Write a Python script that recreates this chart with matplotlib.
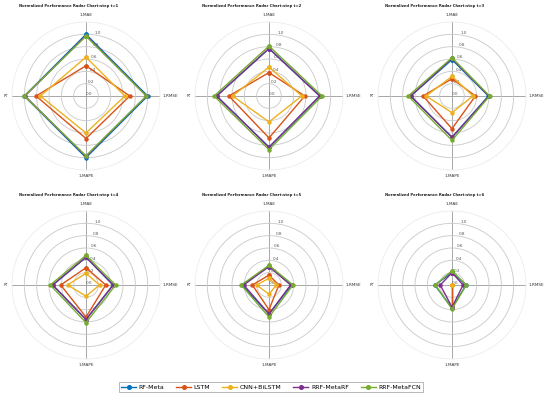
import numpy as np
import matplotlib
matplotlib.use("Agg")
import matplotlib.pyplot as plt

metrics = ["1-MAE", "1-RMSE", "1-MAPE", "R²"]
models = ["RF-Meta", "LSTM", "CNN+BiLSTM", "RRF-MetaRF", "RRF-MetaFCN"]
colors = ["#0072BD", "#D95319", "#EDB120", "#7E2F8E", "#77AC30"]
steps = ["t=1", "t=2", "t=3", "t=4", "t=5", "t=6"]

# values per step: [model][metric] with metric order 1-MAE, 1-RMSE, 1-MAPE, R²
rf_meta = [
    [1.00, 1.00, 1.00, 1.00],
    [0.77, 0.83, 0.83, 0.85],
    [0.59, 0.59, 0.67, 0.67],
    [0.45, 0.44, 0.56, 0.54],
    [0.30, 0.37, 0.47, 0.44],
    [0.20, 0.23, 0.37, 0.28],
]
lstm = [
    [0.49, 0.71, 0.69, 0.81],
    [0.38, 0.58, 0.68, 0.65],
    [0.28, 0.38, 0.53, 0.47],
    [0.28, 0.32, 0.52, 0.41],
    [0.16, 0.16, 0.40, 0.27],
    [0.00, 0.00, 0.35, 0.00],
]
cnn_bilstm = [
    [0.63, 0.63, 0.60, 0.74],
    [0.47, 0.53, 0.42, 0.59],
    [0.32, 0.34, 0.27, 0.42],
    [0.19, 0.22, 0.18, 0.30],
    [0.11, 0.12, 0.15, 0.20],
    [0.00, 0.00, 0.00, 0.00],
]
rrf_metarf = [
    [0.98, 0.98, 0.98, 0.99],
    [0.77, 0.82, 0.83, 0.85],
    [0.61, 0.60, 0.67, 0.67],
    [0.45, 0.44, 0.56, 0.54],
    [0.30, 0.35, 0.47, 0.41],
    [0.20, 0.18, 0.36, 0.19],
]
rrf_metafcn = [
    [0.97, 0.98, 0.97, 1.00],
    [0.81, 0.86, 0.87, 0.89],
    [0.62, 0.61, 0.72, 0.71],
    [0.48, 0.48, 0.61, 0.58],
    [0.32, 0.39, 0.52, 0.45],
    [0.23, 0.23, 0.39, 0.27],
]
series = [rf_meta, lstm, cnn_bilstm, rrf_metarf, rrf_metafcn]

W, H = 550, 396
fig = plt.figure(figsize=(W / 100, H / 100), dpi=100)
fig.patch.set_facecolor("white")

centers_x = [86, 269, 452]
centers_y = [96, 285]
R = 74

angles = np.linspace(0, 2 * np.pi, len(metrics), endpoint=False)
angles_closed = np.concatenate([angles, angles[:1]])
label_r = [1.32, 1.24, 1.29, 1.27]
label_ha = ["center", "left", "center", "right"]

handles = []
for i, step in enumerate(steps):
    cx = centers_x[i % 3]
    cy = centers_y[i // 3]
    ax = fig.add_axes([(cx - R) / W, (H - cy - R) / H, 2 * R / W, 2 * R / H],
                      projection="polar")
    ax.set_theta_zero_location("N")
    ax.set_theta_direction(-1)
    ax.set_ylim(0, 1.2)
    ax.set_yticks([0, 0.2, 0.4, 0.6, 0.8, 1.0])
    ax.set_yticklabels(["0.0", "0.2", "0.4", "0.6", "0.8", "1.0"],
                       fontsize=3.0, color="#555555")
    ax.set_rlabel_position(8)
    ax.set_xticks(angles)
    ax.set_xticklabels([])
    ax.tick_params(axis="x", length=0)
    for a, lab, r, ha in zip(angles, metrics, label_r, label_ha):
        ax.text(a, r, lab, fontsize=3.0, color="#333333", ha=ha,
                va="center", clip_on=False)
    ax.grid(True, color="#c8c8c8", linewidth=0.6)
    ax.xaxis.grid(True, color="#999999", linewidth=0.6)
    ax.spines["polar"].set_color("#ececec")
    ax.spines["polar"].set_linewidth(0.6)
    ax.set_facecolor("white")
    for m, (name, col) in enumerate(zip(models, colors)):
        vals = np.array(series[m][i])
        vals_c = np.concatenate([vals, vals[:1]])
        ln, = ax.plot(angles_closed, vals_c, color=col, linewidth=1.0,
                      marker="o", markersize=2.2, label=name)
        if i == 0:
            handles.append(ln)
    fig.text((cx - 17) / W, 1 - (cy - 90) / H,
             "Normalized Performance Radar Chart:step " + step,
             fontsize=2.7, fontweight="bold", ha="center", va="center",
             color="#222222")

leg = fig.legend(handles=handles, labels=models, loc="center",
                 bbox_to_anchor=(271 / W, 1 - 387 / H), ncol=5, fontsize=4.5,
                 frameon=True, fancybox=False, edgecolor="#999999",
                 handlelength=2.4, columnspacing=1.9, borderpad=0.35,
                 handletextpad=0.4, markerscale=1.2)
leg.get_frame().set_linewidth(0.6)

fig.savefig("out.png", dpi=100, facecolor="white")
